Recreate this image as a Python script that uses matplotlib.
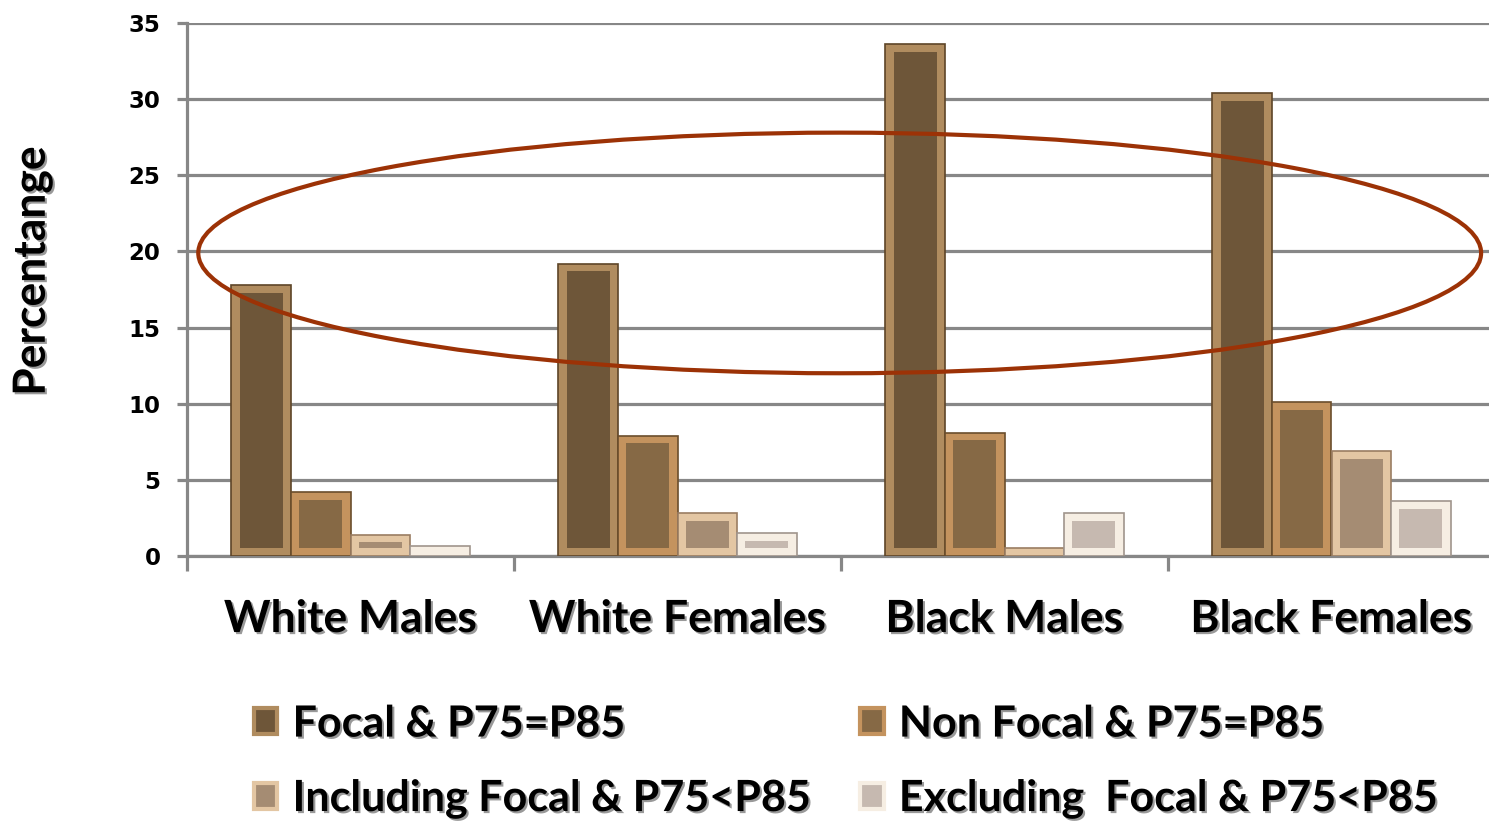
import matplotlib
matplotlib.use("Agg")
import matplotlib.pyplot as plt
import matplotlib.patheffects as pe
from matplotlib.patches import Ellipse, Patch
import numpy as np

categories = ["White Males", "White Females", "Black Males", "Black Females"]
series_names = ["Focal & P75=P85", "Non Focal & P75=P85",
                "Including Focal & P75<P85", "Excluding  Focal & P75<P85"]
focal = [17.8, 19.2, 33.6, 30.4]
non_focal = [4.2, 7.9, 8.1, 10.1]
including = [1.4, 2.8, 0.5, 6.9]
excluding = [0.65, 1.5, 2.8, 3.6]
series_values = [focal, non_focal, including, excluding]
y_ticks = [0, 5, 10, 15, 20, 25, 30, 35]

bevel_colors = ["#b08c5f", "#c4935e", "#e3c6a3", "#f6eee3"]
inner_colors = ["#6e5639", "#866945", "#a58c73", "#c6b9b0"]
outline_colors = ["#5e4528", "#6b4e2c", "#9a7d62", "#a0958c"]

fig = plt.figure(figsize=(14.89, 8.21), dpi=100)
ax = fig.add_axes([187/1489, 1-556/821, 1308/1489, (556-23)/821])

x = np.arange(len(categories))
bw = 0.182
inset_x = 0.025
inset_y = 0.5
for i, vals in enumerate(series_values):
    pos = x + (i - 1.5) * bw
    ax.bar(pos, vals, width=bw, color=bevel_colors[i], edgecolor=outline_colors[i],
           linewidth=1.2, zorder=3)
    inner_h = [max(v - 2 * inset_y, 0) for v in vals]
    ax.bar(pos, inner_h, width=bw - 2 * inset_x, bottom=inset_y,
           color=inner_colors[i], linewidth=0, zorder=4)

ax.set_xlim(-0.5, 3.5)
ax.set_ylim(0, 35)
ax.set_yticks(y_ticks)
ax.set_yticklabels([str(t) for t in y_ticks])
ax.yaxis.grid(True, color="#878787", linewidth=2.3, zorder=0)
ax.set_axisbelow(True)

ax.set_xticks(x)
ax.set_xticklabels(categories)
ax.set_xticks(np.arange(-0.5, 3.6, 1.0), minor=True)
ax.tick_params(axis="x", which="major", length=0, pad=31)
ax.tick_params(axis="x", which="minor", length=11, width=2.3, color="#878787")
ax.tick_params(axis="y", length=7, width=2.3, color="#878787", pad=12)

shadow = [pe.withSimplePatchShadow(offset=(1.5, -1.5), shadow_rgbFace="#555555", alpha=0.6)]
for lab in ax.get_xticklabels():
    lab.set_fontfamily("Lato")
    lab.set_fontweight("bold")
    lab.set_fontsize(32)
    lab.set_path_effects(shadow)
for lab in ax.get_yticklabels():
    lab.set_fontfamily("DejaVu Sans")
    lab.set_fontweight("bold")
    lab.set_fontsize(16.5)

for s in ["top", "right"]:
    ax.spines[s].set_visible(False)
for s in ["left", "bottom"]:
    ax.spines[s].set_color("#878787")
    ax.spines[s].set_linewidth(2.3)

ax.set_ylabel("Percentange", fontfamily="Lato", fontweight="bold", fontsize=32,
              path_effects=shadow)
ax.yaxis.set_label_coords(-0.103, 0.535)

ell = Ellipse((1.496, 19.9), 3.923, 15.8, fill=False, edgecolor="#9c3206",
              linewidth=3, zorder=6)
ax.add_patch(ell)

handles = [Patch(facecolor=inner_colors[i], edgecolor=bevel_colors[i], linewidth=3)
           for i in range(4)]
order = [0, 2, 1, 3]
leg = fig.legend([handles[i] for i in order], [series_names[i] for i in order],
                 ncol=2, loc="center left", bbox_to_anchor=(0.156, 0.073),
                 frameon=False, borderpad=0, handlelength=0.55, handleheight=0.55,
                 handletextpad=0.35, columnspacing=1.15, labelspacing=0.8,
                 prop={"family": "Lato", "weight": "bold", "size": 31})
for t in leg.get_texts():
    t.set_path_effects(shadow)

fig.savefig("out.png", dpi=100)
